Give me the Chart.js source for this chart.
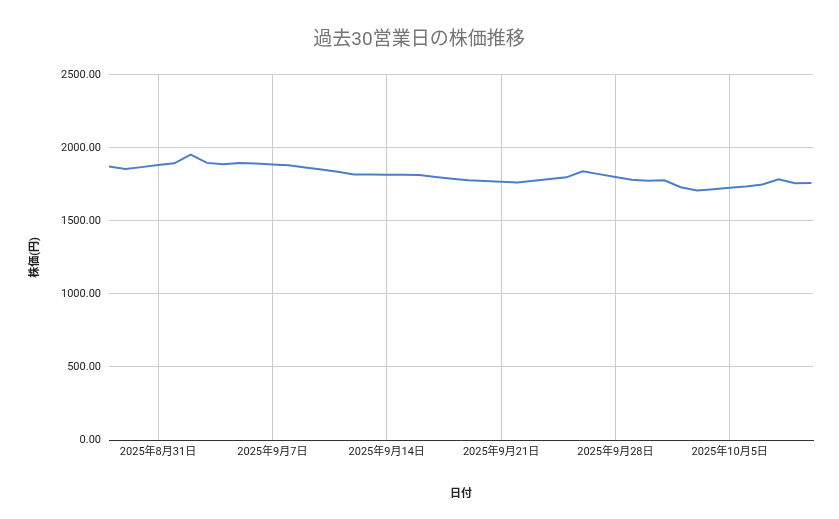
<!DOCTYPE html>
<html><head><meta charset="utf-8">
<script src="https://cdn.jsdelivr.net/npm/chart.js@4/dist/chart.umd.min.js"></script>
<style>html,body{margin:0;background:#fff}#w{width:839px;height:519px}</style>
</head><body><div id="w"><canvas id="c"></canvas></div>
<script>
const dayOffsets = [-3,-2,-1,0,1,2,3,4,5,6,7,8,9,10,11,12,13,14,15,16,17,18,19,20,21,22,23,24,25,26,27,28,29,30,31,32,33,34,35,36,37,38,39,40];
const prices = [1872,1856,1868,1882,1894,1953,1897,1888,1897,1892,1886,1880,1866,1852,1837,1817,1817,1816,1815,1814,1800,1788,1778,1773,1768,1763,1774,1786,1798,1840,1820,1800,1781,1775,1778,1730,1708,1717,1726,1736,1749,1785,1758,1760];
const tickDays = [0,7,14,21,28,35];
const tickLabels = ['2025年8月31日','2025年9月7日','2025年9月14日','2025年9月21日','2025年9月28日','2025年10月5日'];
const F = "Roboto, 'Noto Sans CJK JP', sans-serif";
new Chart(document.getElementById('c'), {
  type:'line',
  data:{datasets:[{data:dayOffsets.map((d,i)=>({x:d,y:prices[i]})),borderColor:'#4a7fc8',borderWidth:2,pointRadius:0,tension:0}]},
  options:{
    responsive:true,maintainAspectRatio:false,animation:false,
    layout:{padding:{left:25,right:26,top:15,bottom:14}},
    plugins:{legend:{display:false},tooltip:{enabled:false},
      title:{display:true,text:'過去30営業日の株価推移',color:'#757575',font:{family:F,size:19,weight:'normal'},padding:{top:14,bottom:23}}},
    scales:{
      x:{type:'linear',min:-3,max:40.1,
        afterBuildTicks:s=>{s.ticks=tickDays.map(v=>({value:v}));},
        afterFit:s=>{s.height=65;},
        grid:{color:'#cccccc',drawTicks:false},border:{color:'#333'},
        ticks:{autoSkip:false,maxRotation:0,padding:6,color:'#222',font:{family:F,size:11},callback:v=>tickLabels[tickDays.indexOf(v)]},
        title:{display:true,text:'日付',color:'#222',font:{family:F,size:11,weight:'bold'},padding:{top:8}}},
      y:{min:0,max:2500,
        afterFit:s=>{s.width=84;},
        grid:{color:'#cccccc',drawTicks:false},border:{display:false},
        ticks:{stepSize:500,padding:8,color:'#222',font:{family:F,size:11},callback:v=>v.toFixed(2)},
        title:{display:true,text:'株価(円)',color:'#222',font:{family:F,size:11,weight:'bold'}}}
    }
  }
});
</script></body></html>
